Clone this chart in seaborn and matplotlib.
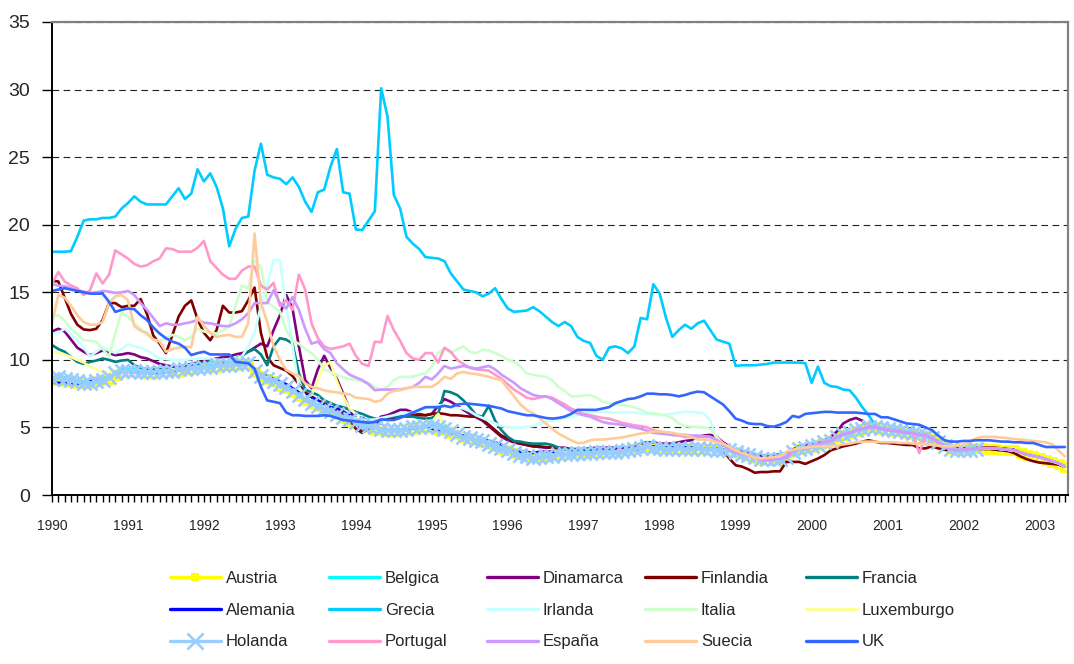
import numpy as np
import pandas as pd
import seaborn as sns
import matplotlib.pyplot as plt
from matplotlib.lines import Line2D

sns.set_theme(style='white')
plt.rcParams['font.family'] = ['Liberation Sans', 'DejaVu Sans']

# monthly values, Jan 1990 .. May 2003
euro = [
    3.15, 3.05, 2.95, 2.75, 2.6, 2.6, 2.65, 2.7, 2.8, 3.25, 3.45, 3.45,
    3.55, 3.7, 3.9, 4.0, 4.3, 4.5, 4.6, 4.8, 4.9, 5.0, 5.05, 4.9,
    4.8, 4.75, 4.7, 4.6, 4.6, 4.45, 4.4, 4.2, 3.9, 3.6, 3.4, 3.3,
    3.35, 3.4, 3.45, 3.45, 3.45, 3.45, 3.4, 3.35, 3.3, 3.15, 3.0, 2.9,
    2.8, 2.65, 2.5, 2.35, 2.1,
]

austria = [
    8.5, 8.5, 8.4, 8.4, 8.3, 8.3, 8.3, 8.4, 8.5, 8.6, 8.9, 9.1,
    9.1, 9.1, 9.1, 9.0, 9.0, 9.1, 9.1, 9.2, 9.2, 9.3, 9.3, 9.4,
    9.4, 9.5, 9.5, 9.6, 9.6, 9.6, 9.7, 9.7, 9.1, 8.8, 8.6, 8.4,
    8.1, 7.9, 7.6, 7.3, 7.0, 6.8, 6.6, 6.4, 6.2, 6.0, 5.7, 5.5,
    5.3, 5.1, 5.0, 4.9, 4.8, 4.7, 4.7, 4.8, 4.8, 4.9, 5.0, 5.0,
    5.0, 4.9, 4.8, 4.6, 4.5, 4.3, 4.2, 4.1, 3.9, 3.8, 3.6, 3.4,
    3.3, 3.1, 3.0, 2.9, 2.8, 2.85, 2.9, 2.95, 3.0, 3.05, 3.1, 3.1,
    3.1, 3.15, 3.2, 3.2, 3.2, 3.25, 3.3, 3.3, 3.4, 3.5, 3.6, 3.5,
    3.45, 3.45, 3.4, 3.4, 3.45, 3.4, 3.4, 3.4, 3.35, 3.35, 3.3, 3.25,
    3.15, 3.05, 2.9, 2.75, 2.6, 2.6, 2.65, 2.7, 2.8, 3.2, 3.4, 3.45,
    3.55, 3.7, 3.85, 4.0, 4.3, 4.45, 4.6, 4.75, 4.85, 5.0, 5.0, 4.9,
    4.8, 4.75, 4.7, 4.6, 4.55, 4.45, 4.35, 4.15, 3.9, 3.6, 3.4, 3.3,
    3.35, 3.4, 3.45, 3.45, 3.4, 3.4, 3.35, 3.3, 3.3, 3.1, 2.95, 2.85,
    2.75, 2.6, 2.45, 2.3, 2.05,
]

belgica = [
    8.7, 8.8, 8.7, 8.6, 8.5, 8.4, 8.4, 8.5, 8.6, 8.8, 9.1, 9.3,
    9.3, 9.3, 9.2, 9.2, 9.2, 9.2, 9.3, 9.3, 9.4, 9.4, 9.5, 9.5,
    9.5, 9.6, 9.6, 9.7, 9.7, 9.7, 9.7, 9.8, 9.3, 8.9, 8.7, 8.5,
    8.3, 8.1, 7.8, 7.5, 7.2, 6.9, 6.7, 6.5, 6.3, 6.1, 5.9, 5.7,
    5.5, 5.3, 5.2, 5.1, 5.0, 4.9, 4.9, 4.9, 5.0, 5.1, 5.1, 5.2,
    5.2, 5.1, 5.0, 4.8, 4.6, 4.4, 4.3, 4.2, 4.1, 3.9, 3.7, 3.5,
    3.3, 3.15, 3.0, 2.9, 2.8, 2.85, 2.9, 2.95, 3.0, 3.05, 3.1, 3.1,
    3.1, 3.1, 3.15, 3.2, 3.2, 3.2, 3.25, 3.3, 3.4, 3.5, 3.6, 3.5,
    3.45, 3.4, 3.4, 3.45, 3.4, 3.4, 3.45, 3.4, 3.4, 3.35, 3.3, 3.3,
] + euro

dinamarca = [
    12.1, 12.3, 12.1, 11.5, 10.9, 10.6, 10.35, 10.5, 10.7, 10.5, 10.35, 10.4,
    10.5, 10.4, 10.2, 10.1, 9.9, 9.7, 9.6, 9.5, 9.5, 9.6, 9.7, 9.8,
    9.9, 10.0, 10.1, 10.2, 10.25, 10.4, 10.5, 10.6, 10.9, 11.2, 11.0, 12.2,
    13.3, 14.8, 13.8, 11.0, 8.5, 7.9, 9.3, 10.3, 9.4, 8.6, 7.5, 6.3,
    5.6, 4.6, 5.0, 5.4, 5.8, 5.9, 6.1, 6.3, 6.3, 6.1, 6.0, 5.9,
    6.0, 6.6, 7.1, 6.9, 6.6, 6.3, 6.0, 5.75, 5.5, 5.1, 4.7, 4.3,
    4.05, 3.9, 3.8, 3.7, 3.6, 3.55, 3.5, 3.5, 3.5, 3.5, 3.4, 3.4,
    3.4, 3.45, 3.5, 3.5, 3.5, 3.5, 3.5, 3.5, 3.6, 3.8, 3.9, 3.9,
    3.8, 3.8, 3.8, 3.9, 4.0, 4.05, 4.3, 4.4, 4.45, 4.3, 3.9, 3.6,
    3.3, 3.2, 3.1, 3.0, 2.9, 2.9, 2.95, 3.0, 3.1, 3.35, 3.6, 3.7,
    3.7, 3.8, 4.0, 4.3, 4.7, 5.3, 5.55, 5.7, 5.5, 5.1, 5.05, 4.95,
    4.9, 4.85, 4.8, 4.7, 4.65, 4.55, 4.45, 4.25, 3.95, 3.65, 3.5, 3.45,
    3.45, 3.45, 3.5, 3.5, 3.5, 3.5, 3.45, 3.4, 3.35, 3.15, 3.0, 2.9,
    2.8, 2.65, 2.5, 2.35, 2.1,
]

finlandia = [
    15.85, 15.8, 14.6, 13.4, 12.6, 12.25, 12.2, 12.3, 12.95, 14.2, 14.2, 13.9,
    14.0, 14.0, 14.5, 13.4, 11.8, 11.2, 10.5, 11.8, 13.2, 14.0, 14.4, 13.0,
    12.0, 11.45, 12.2, 14.0, 13.5, 13.5, 13.6, 14.4, 15.35, 12.0, 10.2, 9.6,
    9.4, 9.2, 8.8, 8.2, 7.6, 7.3, 7.0, 6.8, 6.5, 6.2, 6.0, 5.6,
    4.9, 4.6, 4.9, 5.3, 5.6, 5.65, 5.7, 5.8, 5.9, 5.9, 5.9, 5.9,
    6.0, 6.05, 6.0, 5.9, 5.9, 5.85, 5.8, 5.8, 5.6, 5.2, 4.8, 4.4,
    4.2, 3.9, 3.8, 3.7, 3.6, 3.6, 3.55, 3.5, 3.45, 3.4, 3.35, 3.3,
    3.3, 3.3, 3.3, 3.3, 3.3, 3.3, 3.3, 3.35, 3.4, 3.5, 3.6, 3.6,
    3.5, 3.5, 3.45, 3.5, 3.5, 3.5, 3.45, 3.45, 3.4, 3.4, 3.3, 2.7,
    2.2, 2.1, 1.9, 1.65, 1.7, 1.7, 1.75, 1.75, 2.45, 2.45, 2.45, 2.3,
    2.5, 2.7, 2.95, 3.3, 3.45, 3.6, 3.7, 3.8, 3.95, 4.05, 3.95, 3.85,
    3.85, 3.8, 3.75, 3.7, 3.7, 3.45, 3.45, 3.6, 3.45, 3.35, 3.3, 3.3,
    3.3, 3.35, 3.4, 3.4, 3.4, 3.35, 3.3, 3.25, 3.1, 2.85, 2.65, 2.5,
    2.4, 2.35, 2.3, 2.25, 2.1,
]

francia = [
    11.1, 10.8, 10.6, 10.2, 9.85, 9.7, 9.85, 9.95, 10.1, 10.0, 9.85, 9.95,
    10.0, 9.6, 9.4, 9.3, 9.3, 9.3, 9.3, 9.3, 9.35, 9.4, 9.5, 9.6,
    9.8, 9.9, 9.9, 9.95, 10.0, 10.1, 10.3, 10.6, 10.8, 10.4, 9.6, 11.0,
    11.6, 11.5, 11.2, 9.0, 7.8, 7.6, 7.4, 7.0, 6.8, 6.6, 6.5, 6.3,
    6.15, 6.0, 5.8, 5.65, 5.6, 5.75, 5.8, 5.8, 5.8, 5.8, 5.7, 5.65,
    5.7, 6.0, 7.7, 7.6, 7.4, 7.0, 6.5, 5.9, 5.8, 6.6, 5.5, 4.8,
    4.3, 4.0, 3.95, 3.85, 3.8, 3.8, 3.8, 3.7, 3.5, 3.4, 3.35, 3.3,
    3.3, 3.3, 3.3, 3.3, 3.3, 3.3, 3.3, 3.35, 3.4, 3.45, 3.6, 3.6,
    3.5, 3.5, 3.5, 3.55, 3.5, 3.5, 3.45, 3.45, 3.4, 3.4, 3.35, 3.3,
] + euro

alemania = [
    8.3, 8.3, 8.3, 8.2, 8.2, 8.3, 8.4, 8.5, 8.5, 8.6, 9.0, 9.2,
    9.2, 9.1, 9.1, 9.1, 9.0, 9.0, 9.1, 9.2, 9.2, 9.3, 9.4, 9.5,
    9.5, 9.5, 9.6, 9.7, 9.7, 9.7, 9.7, 9.8, 9.3, 8.9, 8.8, 8.6,
    8.4, 8.2, 7.9, 7.6, 7.4, 7.2, 7.0, 6.6, 6.5, 6.4, 6.2, 5.9,
    5.8, 5.7, 5.5, 5.4, 5.1, 5.0, 4.9, 4.9, 4.9, 4.9, 5.0, 5.1,
    4.9, 4.8, 4.8, 4.6, 4.5, 4.4, 4.4, 4.3, 4.1, 4.0, 3.9, 3.7,
    3.4, 3.2, 3.2, 3.2, 3.1, 3.2, 3.2, 3.2, 3.1, 3.0, 3.1, 3.1,
    3.1, 3.15, 3.2, 3.2, 3.2, 3.2, 3.2, 3.3, 3.3, 3.4, 3.6, 3.6,
    3.5, 3.45, 3.5, 3.5, 3.5, 3.5, 3.45, 3.45, 3.45, 3.4, 3.4, 3.3,
] + euro

grecia = [
    18.0, 18.0, 18.0, 18.05, 19.1, 20.3, 20.4, 20.4, 20.5, 20.5, 20.6, 21.2,
    21.6, 22.1, 21.7, 21.5, 21.5, 21.5, 21.5, 22.1, 22.7, 21.9, 22.3, 24.1,
    23.2, 23.8, 22.8, 21.2, 18.4, 19.7, 20.5, 20.6, 24.0, 26.0, 23.7, 23.5,
    23.4, 23.0, 23.5, 22.8, 21.7, 20.95, 22.4, 22.6, 24.3, 25.6, 22.4, 22.3,
    19.65, 19.6, 20.3, 21.0, 30.1, 28.0, 22.2, 21.2, 19.1, 18.6, 18.2, 17.6,
    17.55, 17.5, 17.3, 16.4, 15.8, 15.2, 15.1, 15.0, 14.7, 14.9, 15.3, 14.5,
    13.8, 13.55, 13.6, 13.65, 13.9, 13.6, 13.2, 12.8, 12.5, 12.8, 12.5, 11.7,
    11.4, 11.25, 10.3, 10.0, 10.9, 11.0, 10.85, 10.5, 11.0, 13.1, 13.0, 15.6,
    14.9, 13.1, 11.7, 12.2, 12.6, 12.3, 12.7, 12.9, 12.2, 11.5, 11.35, 11.2,
    9.55, 9.6, 9.6, 9.6, 9.65, 9.7, 9.8, 9.8, 9.8, 9.8, 9.8, 9.75,
    8.3, 9.5, 8.3, 8.05, 8.0, 7.8, 7.75, 7.2, 6.5, 5.9, 5.2, 4.95,
] + euro[24:]

irlanda = [
    11.95, 12.0, 12.3, 11.9, 11.45, 10.9, 10.25, 10.6, 10.95, 10.7, 10.5, 10.8,
    11.15, 11.0, 10.9, 10.7, 10.4, 10.1, 10.05, 10.0, 10.0, 10.0, 10.05, 10.1,
    10.1, 10.1, 10.0, 10.0, 10.0, 10.1, 10.25, 11.0, 12.0, 14.0, 15.5, 17.4,
    17.4, 14.0, 11.0, 8.0, 7.3, 7.0, 6.8, 6.5, 6.3, 6.0, 5.8, 5.8,
    5.7, 5.6, 5.55, 5.6, 5.7, 5.8, 5.9, 6.0, 6.05, 6.1, 6.2, 6.4,
    6.5, 6.65, 6.6, 6.5, 6.45, 6.4, 6.2, 5.9, 5.7, 5.5, 5.3, 5.1,
    5.05, 5.0, 5.0, 5.05, 5.1, 5.3, 5.4, 5.5, 5.6, 5.7, 5.8, 5.9,
    6.0, 6.1, 6.15, 6.15, 6.1, 6.1, 6.1, 6.1, 6.1, 6.05, 6.0, 6.0,
    5.9, 5.95, 6.0, 6.1, 6.15, 6.15, 6.1, 6.05, 5.5, 4.1, 3.6, 3.4,
] + euro

italia = [
    13.2, 13.3, 12.9, 12.3, 11.9, 11.45, 11.4, 11.35, 10.8, 10.25, 12.0, 13.5,
    13.2, 12.7, 12.3, 11.85, 11.5, 11.4, 11.6, 11.85, 11.7, 11.45, 11.7, 12.3,
    12.1, 12.0, 11.95, 12.2, 12.45, 14.0, 15.5, 15.3, 17.3, 16.9, 14.3, 13.9,
    13.6, 12.2, 11.4, 11.2, 10.8, 10.5, 10.0, 9.3, 9.1, 8.9, 8.7, 8.6,
    8.5, 8.4, 8.3, 8.0, 7.75, 8.0, 8.5, 8.75, 8.75, 8.75, 8.9, 9.0,
    9.5, 10.5, 10.85, 10.5, 10.8, 11.0, 10.6, 10.5, 10.75, 10.7, 10.5, 10.3,
    10.0, 9.85, 9.5, 9.0, 8.9, 8.8, 8.75, 8.5, 8.0, 7.7, 7.3, 7.3,
    7.35, 7.4, 7.2, 6.9, 6.8, 6.7, 6.65, 6.6, 6.5, 6.3, 6.1, 6.05,
    5.95, 5.9, 5.7, 5.3, 5.1, 5.05, 5.05, 5.0, 4.9, 4.3, 3.8, 3.5,
] + euro

luxemburgo = [
    10.6, 10.5, 10.4, 10.2, 10.0, 9.8, 9.5, 9.3, 9.1, 9.0, 9.1, 9.2,
    9.2, 9.2, 9.2, 9.1, 9.1, 9.2, 9.2, 9.3, 9.3, 9.3, 9.4, 9.5,
    9.5, 9.5, 9.6, 9.6, 9.7, 9.7, 9.7, 9.8, 9.3, 8.9, 8.7, 8.5,
    8.2, 8.0, 7.7, 7.4, 7.2, 7.4, 8.5, 9.6, 9.8, 8.4, 7.3, 6.4,
    6.0, 5.5, 5.3, 5.2, 5.1, 5.0, 5.0, 5.0, 5.0, 5.1, 5.2, 5.3,
    5.4, 6.0, 5.3, 5.0, 4.8, 4.6, 4.4, 4.3, 4.1, 3.9, 3.7, 3.5,
    3.3, 3.15, 3.0, 2.9, 2.8, 2.85, 2.9, 2.95, 3.0, 3.05, 3.1, 3.1,
    3.1, 3.1, 3.15, 3.2, 3.2, 3.2, 3.25, 3.3, 3.4, 3.5, 3.6, 3.5,
    3.45, 3.4, 3.4, 3.45, 3.4, 3.4, 3.45, 3.4, 3.4, 3.35, 3.3, 3.3,
] + euro

holanda = [
    8.6, 8.7, 8.6, 8.5, 8.4, 8.3, 8.3, 8.4, 8.5, 8.7, 9.0, 9.2,
    9.2, 9.2, 9.1, 9.1, 9.1, 9.1, 9.2, 9.2, 9.3, 9.3, 9.4, 9.4,
    9.5, 9.5, 9.6, 9.6, 9.6, 9.7, 9.7, 9.8, 9.2, 8.8, 8.6, 8.4,
    8.2, 8.0, 7.7, 7.4, 7.1, 6.8, 6.6, 6.4, 6.2, 6.0, 5.8, 5.6,
    5.4, 5.2, 5.1, 5.0, 4.9, 4.8, 4.8, 4.8, 4.9, 5.0, 5.0, 5.1,
    5.1, 5.0, 4.9, 4.7, 4.5, 4.3, 4.2, 4.1, 4.0, 3.8, 3.6, 3.45,
    3.3, 3.1, 2.95, 2.85, 2.75, 2.8, 2.85, 2.9, 3.0, 3.0, 3.05, 3.1,
    3.1, 3.1, 3.15, 3.2, 3.2, 3.2, 3.25, 3.3, 3.4, 3.5, 3.6, 3.5,
    3.45, 3.4, 3.4, 3.45, 3.4, 3.4, 3.45, 3.4, 3.4, 3.35, 3.3, 3.3,
    3.2, 3.05, 2.95, 2.8, 2.65, 2.65, 2.7, 2.7, 2.8, 3.2, 3.4, 3.5,
    3.6, 3.7, 3.9, 4.0, 4.3, 4.5, 4.6, 4.8, 4.9, 5.0, 5.05, 4.95,
    4.85, 4.8, 4.75, 4.65, 4.6, 4.5, 4.4, 4.2, 3.9, 3.6, 3.4, 3.3,
    3.3, 3.35, 3.4,
]

portugal = [
    15.65, 16.5, 15.8, 15.5, 15.3, 14.8, 15.15, 16.4, 15.65, 16.3, 18.1, 17.8,
    17.5, 17.1, 16.9, 17.0, 17.3, 17.5, 18.25, 18.2, 18.0, 18.0, 18.0, 18.3,
    18.8, 17.3, 16.8, 16.3, 16.0, 16.0, 16.6, 16.9, 16.9, 15.5, 15.2, 15.7,
    14.0, 14.4, 13.7, 16.3, 15.2, 12.7, 11.6, 11.0, 10.8, 10.9, 11.0, 11.2,
    10.3, 9.7, 9.55, 11.35, 11.3, 13.25, 12.2, 11.4, 10.5, 10.1, 10.0, 10.5,
    10.5, 9.8, 10.9, 10.6, 10.0, 9.7, 9.4, 9.3, 9.25, 9.2, 8.9, 8.6,
    8.2, 7.8, 7.5, 7.2, 7.1, 7.2, 7.3, 7.2, 6.95, 6.7, 6.4, 6.2,
    6.0, 5.9, 5.8, 5.7, 5.65, 5.5, 5.35, 5.25, 5.15, 5.1, 5.0, 4.8,
    4.7, 4.6, 4.45, 4.4, 4.3, 4.3, 4.3, 4.3, 4.3, 4.1, 3.8, 3.5,
    3.15, 3.05, 2.95, 2.75, 2.6, 2.6, 2.65, 2.7, 2.8, 3.25, 3.45, 3.45,
    3.55, 3.7, 3.9, 4.0, 4.3, 4.5, 4.6, 4.8, 4.9, 5.0, 5.05, 4.9,
    4.8, 4.75, 4.7, 4.6, 4.6, 3.1, 4.4, 4.2, 3.9, 3.6, 3.4, 3.3,
    3.35, 3.4, 3.45, 3.45, 3.45, 3.45, 3.4, 3.35, 3.3, 3.15, 3.0, 2.9,
    2.8, 2.65, 2.5, 2.35, 2.1,
]

espana = [
    15.6, 15.5, 15.45, 15.3, 15.15, 15.05, 14.95, 15.0, 15.1, 15.05, 14.95, 15.0,
    15.1, 14.8, 14.2, 13.7, 13.1, 12.5, 12.7, 12.6, 12.6, 12.7, 12.8, 12.95,
    12.75, 12.7, 12.6, 12.5, 12.5, 12.7, 13.0, 13.45, 14.2, 14.2, 14.2, 15.15,
    14.2, 13.8, 14.65, 13.7, 12.3, 11.2, 11.35, 10.8, 10.5, 9.75, 9.3, 8.9,
    8.7, 8.5, 8.2, 7.75, 7.8, 7.8, 7.8, 7.8, 7.9, 8.0, 8.3, 8.75,
    8.55, 9.0, 9.55, 9.35, 9.45, 9.55, 9.45, 9.35, 9.45, 9.55, 9.3, 8.9,
    8.6, 8.3, 7.9, 7.65, 7.4, 7.3, 7.3, 7.1, 6.8, 6.5, 6.2, 6.05,
    5.9, 5.8, 5.6, 5.4, 5.3, 5.25, 5.2, 5.1, 5.0, 4.9, 4.75, 4.6,
    4.55, 4.5, 4.45, 4.45, 4.45, 4.4, 4.4, 4.35, 4.3, 4.0, 3.7, 3.4,
] + euro

suecia = [
    12.7, 14.8, 14.6, 14.0, 13.3, 12.8, 12.6, 12.6, 12.8, 14.2, 14.7, 14.8,
    14.4, 12.5, 12.15, 12.0, 11.5, 11.35, 10.6, 10.8, 10.9, 10.95, 10.95, 13.2,
    12.5, 12.0, 11.7, 11.8, 11.85, 11.7, 11.7, 12.7, 19.35, 14.2, 12.8, 11.0,
    10.0, 9.25, 9.0, 8.8, 8.25, 8.0, 7.9, 7.75, 7.65, 7.6, 7.5, 7.45,
    7.2, 7.15, 7.1, 6.9, 7.0, 7.5, 7.7, 7.75, 7.9, 8.0, 8.0, 8.0,
    8.0, 8.3, 8.75, 8.6, 9.0, 9.1, 9.0, 8.95, 8.85, 8.75, 8.6, 8.5,
    7.9, 7.3, 6.7, 6.3, 6.05, 5.7, 5.3, 4.9, 4.55, 4.3, 4.05, 3.85,
    3.85, 4.05, 4.1, 4.1, 4.15, 4.2, 4.25, 4.35, 4.45, 4.55, 4.6, 4.7,
    4.7, 4.65, 4.6, 4.5, 4.45, 4.3, 4.1, 4.1, 4.05, 3.9, 3.8, 3.55,
    3.3, 3.1, 2.95, 2.75, 2.7, 2.75, 2.8, 2.85, 3.2, 3.35, 3.45, 3.5,
    3.55, 3.6, 3.6, 3.6, 3.65, 3.75, 3.8, 3.9, 3.95, 3.95, 3.95, 3.9,
    3.9, 3.9, 3.85, 3.85, 3.8, 3.8, 3.75, 3.7, 3.65, 3.6, 3.6, 3.7,
    3.7, 3.95, 4.2, 4.3, 4.3, 4.3, 4.25, 4.2, 4.15, 4.1, 4.05, 4.0,
    3.95, 3.9, 3.75, 3.3, 2.85,
]

uk = [
    15.1, 15.2, 15.3, 15.2, 15.1, 15.0, 14.9, 14.9, 14.9, 14.3, 13.55, 13.7,
    13.8, 13.75, 13.3, 12.95, 12.4, 11.95, 11.6, 11.35, 11.2, 10.9, 10.35, 10.5,
    10.6, 10.4, 10.4, 10.4, 10.4, 9.85, 9.8, 9.75, 9.35, 8.0, 7.0, 6.9,
    6.8, 6.1, 5.9, 5.9, 5.85, 5.85, 5.85, 5.9, 5.85, 5.7, 5.55, 5.5,
    5.45, 5.4, 5.35, 5.4, 5.6, 5.55, 5.55, 5.7, 5.9, 6.1, 6.3, 6.5,
    6.5, 6.5, 6.6, 6.5, 6.7, 6.75, 6.75, 6.7, 6.65, 6.6, 6.5, 6.4,
    6.2, 6.1, 6.0, 5.9, 5.9, 5.8, 5.7, 5.65, 5.7, 5.8, 6.0, 6.3,
    6.3, 6.3, 6.3, 6.4, 6.5, 6.8, 6.95, 7.1, 7.15, 7.3, 7.5, 7.5,
    7.45, 7.45, 7.4, 7.3, 7.4, 7.55, 7.65, 7.6, 7.3, 7.0, 6.7, 6.2,
    5.65, 5.5, 5.3, 5.25, 5.25, 5.1, 5.05, 5.2, 5.4, 5.85, 5.75, 6.0,
    6.05, 6.1, 6.15, 6.15, 6.1, 6.1, 6.1, 6.1, 6.05, 6.0, 6.0, 5.75,
    5.75, 5.6, 5.45, 5.3, 5.25, 5.2, 5.0, 4.8, 4.4, 4.05, 3.95, 3.95,
    4.0, 4.0, 4.05, 4.05, 4.05, 4.0, 3.95, 3.95, 3.9, 3.9, 3.85, 3.85,
    3.7, 3.55, 3.55, 3.55, 3.55,
]

names = ['Austria', 'Belgica', 'Dinamarca', 'Finlandia', 'Francia',
         'Alemania', 'Grecia', 'Irlanda', 'Italia', 'Luxemburgo',
         'Holanda', 'Portugal', 'España', 'Suecia', 'UK']
values = [austria, belgica, dinamarca, finlandia, francia,
          alemania, grecia, irlanda, italia, luxemburgo,
          holanda, portugal, espana, suecia, uk]
colors = ['#FFFF00', '#00FFFF', '#800080', '#800000', '#008080',
          '#0000FF', '#00CCFF', '#C8FFFF', '#CCFFCC', '#FFFF99',
          '#99CCFF', '#FF99CC', '#CC99FF', '#FFCC99', '#3366FF']

n_months = 161
months = 1990 + np.arange(n_months) / 12
years = list(range(1990, 2004))

for nm, v in zip(names, values):
    assert len(v) <= n_months, (nm, len(v))
    if nm != 'Holanda':
        assert len(v) == n_months, (nm, len(v))

marker_style = {
    'Austria': dict(marker='s', markersize=5.5, markerfacecolor='none',
                    markeredgecolor='#FFFF00', markeredgewidth=1.9),
    'Holanda': dict(marker='x', markersize=9.5, markeredgecolor='#99CCFF',
                    markeredgewidth=1.9),
}

fig = plt.figure(figsize=(10.74, 6.64), dpi=100)
ax = fig.add_axes([52 / 1074, 1 - 495 / 664, (1068 - 52) / 1074, (495 - 22) / 664])

handles = []
for nm, v, c in zip(names, values, colors):
    df = pd.DataFrame({'fecha': months[:len(v)], 'valor': v})
    st = marker_style.get(nm, {})
    sns.lineplot(data=df, x='fecha', y='valor', ax=ax, color=c,
                 linewidth=1.9, legend=False, **st)
    hst = dict(st)
    if nm == 'Austria':
        hst.update(markersize=5, markeredgewidth=1.5)
    if nm == 'Holanda':
        hst.update(markersize=11)
    handles.append(Line2D([], [], color=c, linewidth=2.4, **hst))

ax.set_xlim(1990, 1990 + 160.5 / 12)
ax.set_ylim(0, 35)
ax.set_yticks(range(0, 36, 5))
ax.set_xticks(years)
ax.set_xticklabels([str(y) for y in years])
ax.set_xticks(months, minor=True)
ax.set_xlabel('')
ax.set_ylabel('')

ax.yaxis.grid(True, color='#222222', linestyle=(0, (6, 4)), linewidth=0.8)
ax.xaxis.grid(False)
ax.set_axisbelow(True)

for side in ['left', 'bottom']:
    ax.spines[side].set_color('black')
    ax.spines[side].set_linewidth(1.4)
for side in ['top', 'right']:
    ax.spines[side].set_color('#808080')
    ax.spines[side].set_linewidth(1.6)

ax.tick_params(axis='x', which='both', bottom=True, direction='out',
               length=5, width=1, color='black')
ax.tick_params(axis='x', which='major', labelsize=10, pad=12)
ax.tick_params(axis='y', left=True, direction='out', length=7, width=1,
               color='black', labelsize=14, pad=9)

# legend: five columns of three, rows read left to right
col_px = [170, 329, 487, 645, 806]
for c, xp in enumerate(col_px):
    idx = [c, c + 5, c + 10]
    fig.legend([handles[i] for i in idx], [names[i] for i in idx],
               loc='upper left', bbox_to_anchor=(xp / 1074, 1 - 571 / 664),
               frameon=False, fontsize=12, handlelength=3.05,
               handletextpad=0.3, labelspacing=1.0, borderpad=0,
               borderaxespad=0, numpoints=1)

fig.savefig('out.png', dpi=100)
